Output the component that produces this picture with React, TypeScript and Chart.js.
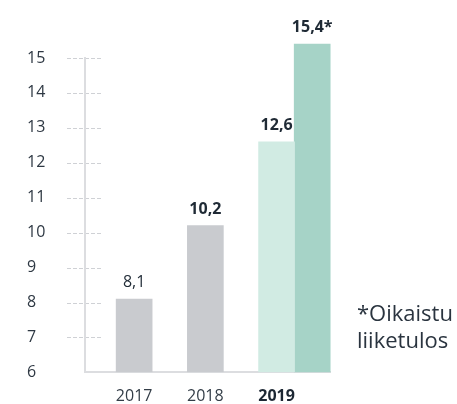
import React, { useEffect, useRef } from "react";
import { Chart, registerables } from "chart.js";

Chart.register(...registerables);

// ---- data ----
const years = [2017, 2018, 2019];
const operatingProfit = [8.1, 10.2, 12.6];
const adjustedYear = [2019.5];
const adjustedProfit = [15.4];
const operatingLabels = ["8,1", "10,2", "12,6"];
const adjustedLabels = ["15,4*"];
const footnoteLines = ["*Oikaistu", "liiketulos"];
const yTicks = [6, 7, 8, 9, 10, 11, 12, 13, 14, 15];

const FONT = "'Open Sans', sans-serif";
const TEXT = "#1f2a35";

export default function App() {
  const ref = useRef<HTMLCanvasElement | null>(null);

  useEffect(() => {
    if (!ref.current) return;

    const dashPlugin = {
      id: "shortDash",
      beforeDraw(chart: any) {
        const { ctx, chartArea, scales } = chart;
        const y = scales.y;
        ctx.save();
        ctx.strokeStyle = "#cfd1d5";
        ctx.lineWidth = 1;
        ctx.setLineDash([4, 2]);
        y.ticks.forEach((t: any) => {
          if (t.value === y.min) return;
          const py = Math.round(y.getPixelForValue(t.value)) + 0.5;
          ctx.beginPath();
          ctx.moveTo(chartArea.left - 18, py);
          ctx.lineTo(chartArea.left + 18, py);
          ctx.stroke();
        });
        ctx.restore();
      },
    };

    const labelPlugin = {
      id: "valueLabels",
      afterDatasetsDraw(chart: any) {
        const { ctx, chartArea } = chart;
        const sets = [operatingLabels, adjustedLabels];
        ctx.save();
        ctx.textAlign = "center";
        ctx.textBaseline = "alphabetic";
        ctx.fillStyle = TEXT;
        sets.forEach((labels, i) => {
          const meta = chart.getDatasetMeta(i);
          meta.data.forEach((bar: any, j: number) => {
            const bold = !(i === 0 && j === 0);
            ctx.font = `${bold ? "bold " : ""}16px ${FONT}`;
            ctx.fillText(labels[j], bar.x, bar.y - 12);
          });
        });
        // footnote
        ctx.textAlign = "left";
        ctx.font = `22px ${FONT}`;
        ctx.fillStyle = "#2a343f";
        footnoteLines.forEach((line, k) => {
          ctx.fillText(line, chartArea.right + 27, 321 + k * 27);
        });
        ctx.restore();
      },
    };

    const chart = new Chart(ref.current, {
      type: "bar",
      data: {
        datasets: [
          {
            data: years.map((x, i) => ({ x, y: operatingProfit[i] })),
            backgroundColor: ["#c9cbcf", "#c9cbcf", "#d1ebe3"],
            barThickness: 36,
            grouped: false,
            base: 6,
          } as any,
          {
            data: adjustedYear.map((x, i) => ({ x, y: adjustedProfit[i] })),
            backgroundColor: "#a6d3c7",
            barThickness: 36,
            grouped: false,
            base: 6,
            clip: false,
          } as any,
        ],
      },
      plugins: [dashPlugin, labelPlugin],
      options: {
        animation: false,
        responsive: true,
        maintainAspectRatio: false,
        layout: { padding: { left: 27, top: 58, right: 127, bottom: 0 } },
        plugins: { legend: { display: false }, tooltip: { enabled: false } },
        scales: {
          x: {
            type: "linear",
            offset: false,
            min: 2016.31,
            max: 2019.75,
            afterBuildTicks: (s: any) => {
              s.ticks = years.map((v) => ({ value: v }));
            },
            afterFit: (s: any) => {
              s.height = 31;
            },
            grid: { display: false, drawTicks: false },
            border: { display: true, color: "#dcdde0", width: 2 },
            ticks: {
              padding: 14,
              autoSkip: false,
              maxRotation: 0,
              color: (c: any) => (c.tick && c.tick.value === 2019 ? "#1c2733" : "#333d47"),
              font: (c: any) => ({
                family: FONT,
                size: 16,
                weight: c.tick && c.tick.value === 2019 ? "bold" : "normal",
              }),
              callback: (v: any) => String(v),
            },
          } as any,
          y: {
            min: 6,
            max: 15,
            afterBuildTicks: (s: any) => {
              s.ticks = yTicks.map((v) => ({ value: v }));
            },
            afterFit: (s: any) => {
              s.width = 58;
            },
            grid: { display: true, drawOnChartArea: false, drawTicks: true, tickLength: 18, tickColor: "rgba(0,0,0,0)" },
            border: { display: true, color: "#dcdde0", width: 2 },
            ticks: {
              crossAlign: "far",
              padding: 22,
              color: "#2e3843",
              font: { family: FONT, size: 16 },
            },
          } as any,
        },
      },
    });
    return () => chart.destroy();
  }, []);

  return (
    <div style={{ position: "fixed", left: 0, top: 0, width: 457, height: 404 }}>
      <canvas ref={ref} />
    </div>
  );
}
